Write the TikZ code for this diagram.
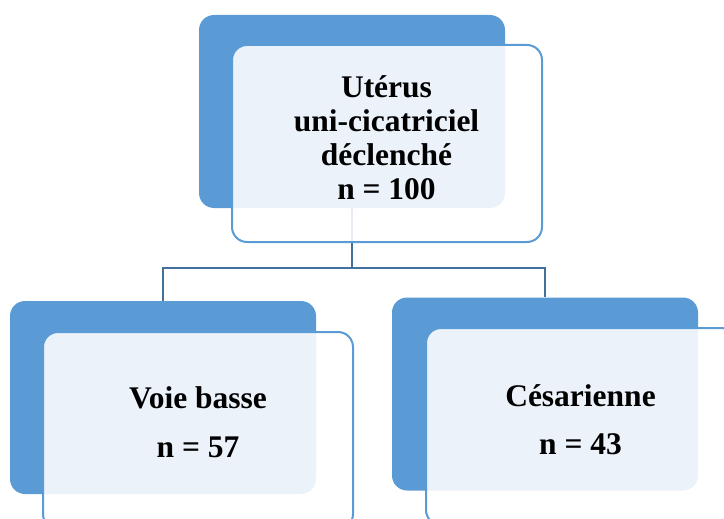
\documentclass[tikz,border=0pt]{standalone}
\usepackage{fontspec}
\setmainfont{Liberation Serif}
\definecolor{boxblue}{HTML}{5B9BD5}
\definecolor{linkblue}{HTML}{41719C}
\begin{document}
\begin{tikzpicture}[x=1pt,y=-1pt,
  backbox/.style={draw=none,fill=boxblue,rounded corners=15pt,minimum width=306pt,minimum height=193pt,inner sep=0pt},
  frontbox/.style={draw=boxblue,line width=2pt,fill=white,fill opacity=0.88,rounded corners=15pt,minimum width=310pt,minimum height=197pt,inner sep=0pt},
  lbl/.style={align=center,font=\bfseries\fontsize{31.5}{34}\selectfont,inner sep=0pt},
  conn/.style={draw=linkblue,line width=2.5pt}]
\useasboundingbox (0,0) rectangle (724,519);
\begin{scope}
\clip (0,0) rectangle (724,519);
% back boxes
\node[backbox] (topB) at (352,111.5) {};
\node[backbox] (leftB) at (163,397.5) {};
\node[backbox] (rightB) at (545,394) {};
% connectors
\coordinate (j) at (352,268);
\draw[conn] (topB.south) -- (j) -| (leftB.north);
\draw[conn] (j) -| (rightB.north);
% front boxes
\node[frontbox] (topF) at (387,143.5) {};
\node[frontbox] (leftF) at (198,430.5) {};
\node[frontbox] (rightF) at (581,426.5) {};
\end{scope}
% labels
\node[lbl] (topT) at (386.5,138) {Utérus\\uni-cicatriciel\\déclenché\\n = 100};
\node[lbl,font=\bfseries\fontsize{31.5}{49}\selectfont] (leftT) at (198,422.5) {Voie basse\\n = 57};
\node[lbl,font=\bfseries\fontsize{31.5}{48}\selectfont] (rightT) at (580.5,420) {Césarienne\\n = 43};
\end{tikzpicture}
\end{document}
